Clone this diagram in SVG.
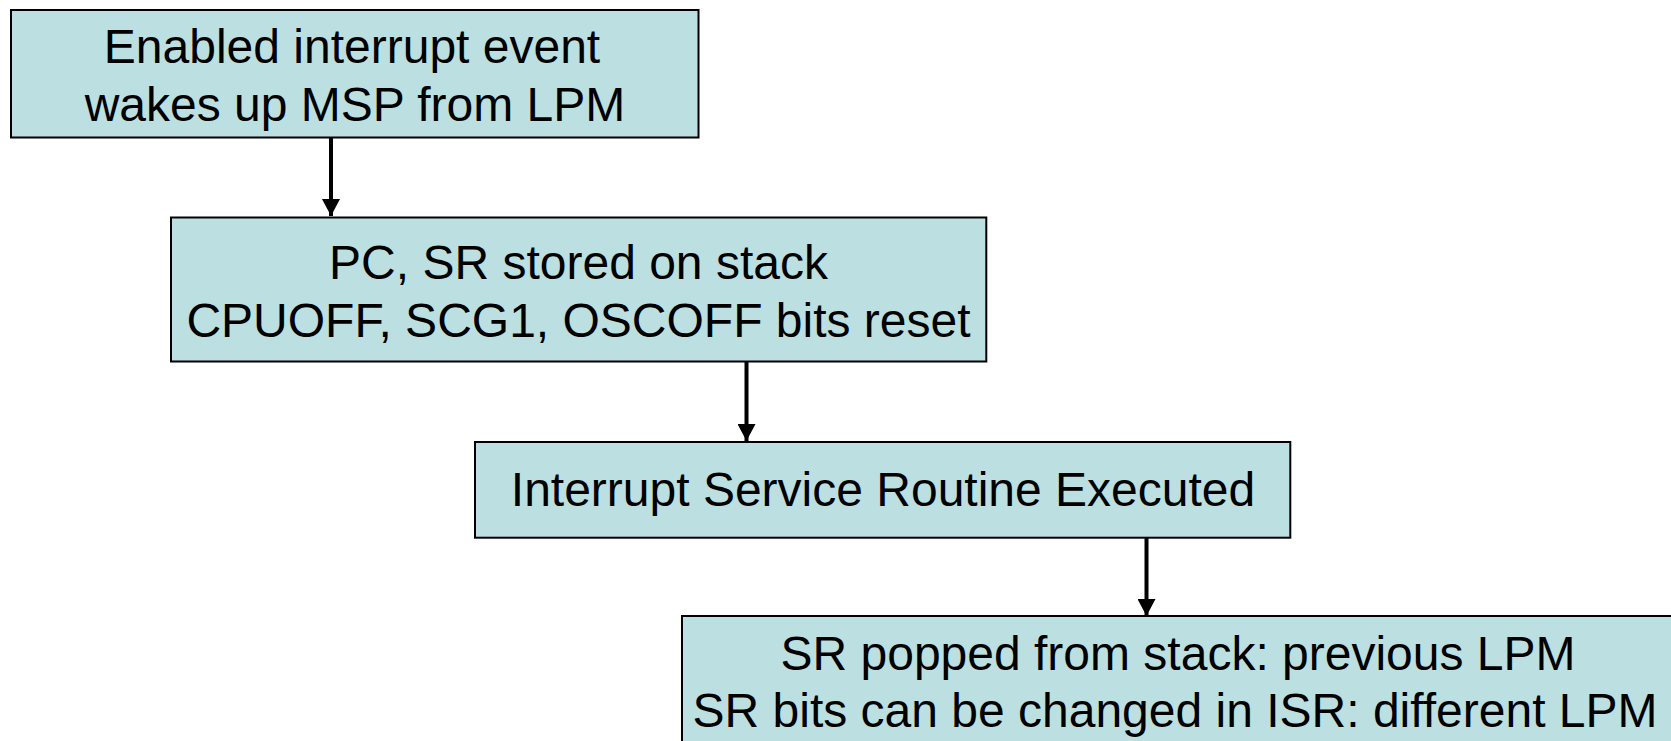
<svg xmlns="http://www.w3.org/2000/svg" width="1671" height="741" viewBox="0 0 1671 741">
  <style>
    .box { fill: #bce0e1; stroke: #000; stroke-width: 2; }
    .label { font-family: "Liberation Sans", Arial, sans-serif; font-size: 48px; fill: #000; text-anchor: middle; }
    .link { stroke: #000; stroke-width: 4; fill: none; marker-end: url(#head); }
  </style>
  <defs>
    <marker id="head" markerUnits="userSpaceOnUse" markerWidth="18" markerHeight="18" viewBox="0 0 16 17" refX="16" refY="8.5" orient="auto">
      <path d="M0,0 L16,8.5 L0,17 Z" fill="#000"/>
    </marker>
  </defs>

  <g id="connectors">
    <line class="link" x1="331" y1="138" x2="331" y2="216"/>
    <line class="link" x1="746.5" y1="362" x2="746.5" y2="441"/>
    <line class="link" x1="1146.5" y1="538" x2="1146.5" y2="616"/>
  </g>

  <g id="wake">
    <rect class="box" x="11" y="10" width="687.5" height="127.5"/>
    <text class="label" x="352" y="63">Enabled interrupt event</text>
    <text class="label" x="355" y="120.5">wakes up MSP from LPM</text>
  </g>

  <g id="stack">
    <rect class="box" x="171" y="217.5" width="815.3" height="144"/>
    <text class="label" x="578.5" y="279">PC, SR stored on stack</text>
    <text class="label" x="578.5" y="336.5">CPUOFF, SCG1, OSCOFF bits reset</text>
  </g>

  <g id="isr">
    <rect class="box" x="475" y="442" width="815.3" height="95.7"/>
    <text class="label" x="883" y="505.5">Interrupt Service Routine Executed</text>
  </g>

  <g id="return">
    <rect class="box" x="682" y="616" width="992" height="150"/>
    <text class="label" x="1178" y="670">SR popped from stack: previous LPM</text>
    <text class="label" x="1175" y="726.5">SR bits can be changed in ISR: different LPM</text>
  </g>
</svg>
